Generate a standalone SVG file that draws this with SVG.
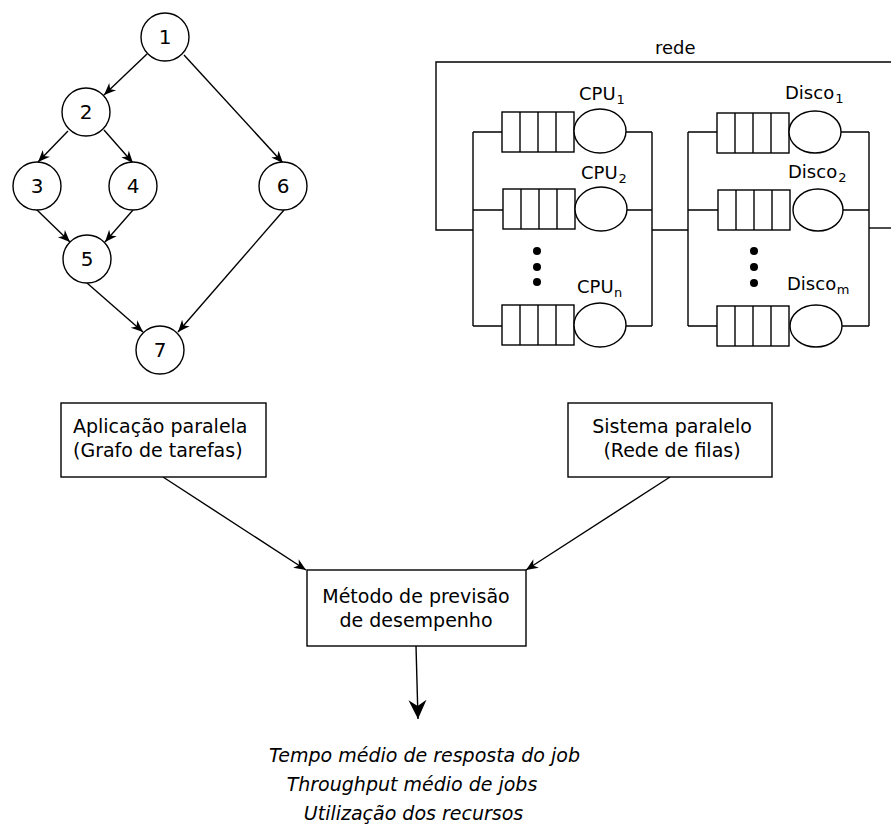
<svg xmlns="http://www.w3.org/2000/svg" width="891" height="826" viewBox="0 0 891 826">
  <style>
    text { font-family: "DejaVu Sans", "Liberation Sans", sans-serif; fill: #000; }
    .node circle, .node rect, .srv ellipse, .q rect { fill: #fff; stroke: #000; stroke-width: 1.4; }
    .q line { stroke: #000; stroke-width: 1.4; }
    .wire { fill: none; stroke: #000; stroke-width: 1.4; }
    .num { font-size: 20px; text-anchor: middle; }
    .lbl { font-size: 18px; }
    .sub { font-size: 13px; }
    .box { font-size: 19px; }
    .mid { text-anchor: middle; }
    .res { font-size: 19px; font-style: italic; text-anchor: middle; }
    .edge { fill: none; stroke: #000; stroke-width: 1.4; }
  </style>
  <defs>
    <marker id="arr" viewBox="-13 -6 14 12" refX="0" refY="0" markerWidth="14" markerHeight="12" markerUnits="userSpaceOnUse" orient="auto">
      <path d="M0,0 L-12,-5 L-8.5,0 L-12,5 Z" fill="#000"/>
    </marker>
    <marker id="arrBig" viewBox="-20 -10 21 20" refX="0" refY="0" markerWidth="21" markerHeight="20" markerUnits="userSpaceOnUse" orient="auto">
      <path d="M0,0 L-19,-9 L-13,0 L-19,9 Z" fill="#000"/>
    </marker>
    <g id="queue" class="q">
      <rect x="0" y="0" width="72" height="40"/>
      <line x1="18" y1="0" x2="18" y2="40"/>
      <line x1="36" y1="0" x2="36" y2="40"/>
      <line x1="54" y1="0" x2="54" y2="40"/>
    </g>
  </defs>

  <!-- task graph edges -->
  <g id="graph-edges" class="edge" marker-end="url(#arr)">
    <line x1="147" y1="54" x2="104" y2="95"/>
    <line x1="184" y1="55" x2="283" y2="163"/>
    <line x1="68" y1="131" x2="38" y2="162"/>
    <line x1="104" y1="130" x2="133" y2="163"/>
    <line x1="36" y1="209" x2="70" y2="242"/>
    <line x1="133" y1="210" x2="105" y2="242"/>
    <line x1="87" y1="283" x2="143" y2="332"/>
    <line x1="284" y1="210" x2="178" y2="332"/>
  </g>

  <!-- task graph nodes -->
  <g id="t1" class="node"><circle cx="165" cy="37" r="24"/><text class="num" x="165" y="44">1</text></g>
  <g id="t2" class="node"><circle cx="86" cy="112" r="24"/><text class="num" x="86" y="119">2</text></g>
  <g id="t3" class="node"><circle cx="37" cy="186" r="24"/><text class="num" x="37" y="193">3</text></g>
  <g id="t4" class="node"><circle cx="133" cy="186" r="24"/><text class="num" x="133" y="193">4</text></g>
  <g id="t5" class="node"><circle cx="87" cy="259" r="24"/><text class="num" x="87" y="266">5</text></g>
  <g id="t6" class="node"><circle cx="283" cy="186" r="24"/><text class="num" x="283" y="193">6</text></g>
  <g id="t7" class="node"><circle cx="160" cy="350" r="24"/><text class="num" x="160" y="357">7</text></g>

  <!-- queueing network: wiring -->
  <g id="net-wires" class="wire">
    <path d="M473,230 H436 V62 H891"/>
    <path d="M473,132 V326 M473,132 H502 M473,210 H503 M473,326 H502"/>
    <path d="M626,132 H652 M627,210 H652 M626,326 H652 M652,132 V326"/>
    <path d="M652,230 H688"/>
    <path d="M688,132 V326 M688,132 H717 M688,210 H718 M688,326 H717"/>
    <path d="M841,132 H869 M843,210 H869 M842,326 H869 M869,132 V326"/>
    <path d="M869,228 H891"/>
  </g>
  <text class="lbl" x="655" y="54">rede</text>

  <!-- CPU stations -->
  <g id="cpu1">
    <use href="#queue" x="502" y="112"/>
    <g class="srv"><ellipse cx="600" cy="131" rx="26" ry="22"/></g>
    <text class="lbl" x="579" y="100">CPU<tspan class="sub" dx="1" dy="3.5">1</tspan></text>
  </g>
  <g id="cpu2">
    <use href="#queue" x="503" y="189"/>
    <g class="srv"><ellipse cx="601" cy="209" rx="26" ry="22"/></g>
    <text class="lbl" x="581" y="179">CPU<tspan class="sub" dx="1" dy="3.5">2</tspan></text>
  </g>
  <g id="cpun">
    <use href="#queue" x="502" y="305"/>
    <g class="srv"><ellipse cx="600" cy="325" rx="26" ry="22"/></g>
    <text class="lbl" x="577" y="293">CPU<tspan class="sub" dx="0.5" dy="3.5">n</tspan></text>
  </g>
  <g id="cpu-dots" fill="#000">
    <circle cx="537" cy="251" r="4"/>
    <circle cx="537" cy="267" r="4"/>
    <circle cx="537" cy="282" r="4"/>
  </g>

  <!-- disk stations -->
  <g id="disk1">
    <use href="#queue" x="717" y="113"/>
    <g class="srv"><ellipse cx="815" cy="132" rx="26" ry="21"/></g>
    <text class="lbl" x="785" y="99">Disco<tspan class="sub" dx="1" dy="3.5">1</tspan></text>
  </g>
  <g id="disk2">
    <use href="#queue" x="718" y="190"/>
    <g class="srv"><ellipse cx="818" cy="210" rx="25" ry="21"/></g>
    <text class="lbl" x="788" y="178">Disco<tspan class="sub" dx="1" dy="3.5">2</tspan></text>
  </g>
  <g id="diskm">
    <use href="#queue" x="717" y="306"/>
    <g class="srv"><ellipse cx="816" cy="326" rx="26" ry="21"/></g>
    <text class="lbl" x="787" y="290">Disco<tspan class="sub" dx="0.5" dy="3.5">m</tspan></text>
  </g>
  <g id="disk-dots" fill="#000">
    <circle cx="754" cy="251" r="4"/>
    <circle cx="754" cy="267" r="4"/>
    <circle cx="754" cy="283" r="4"/>
  </g>

  <!-- flow connectors -->
  <g id="flow-edges" class="edge">
    <line x1="163" y1="477" x2="306" y2="570" marker-end="url(#arr)"/>
    <line x1="670" y1="477" x2="526" y2="570" marker-end="url(#arr)"/>
    <line x1="416" y1="646" x2="418" y2="719" marker-end="url(#arrBig)"/>
  </g>

  <!-- boxes -->
  <g id="app" class="node">
    <rect x="61" y="403" width="205" height="74"/>
    <text class="box" x="73" y="433">Aplicação paralela</text>
    <text class="box" x="73" y="457">(Grafo de tarefas)</text>
  </g>
  <g id="sys" class="node">
    <rect x="568" y="403" width="204" height="74"/>
    <text class="box mid" x="672" y="433">Sistema paralelo</text>
    <text class="box mid" x="672" y="457">(Rede de filas)</text>
  </g>
  <g id="method" class="node">
    <rect x="307" y="570" width="219" height="76"/>
    <text class="box mid" x="416" y="603">Método de previsão</text>
    <text class="box mid" x="416" y="627">de desempenho</text>
  </g>

  <!-- results -->
  <g id="results">
    <text class="res" x="424.5" y="762">Tempo médio de resposta do job</text>
    <text class="res" x="412" y="791">Throughput médio de jobs</text>
    <text class="res" x="413.5" y="820">Utilização dos recursos</text>
  </g>
</svg>
